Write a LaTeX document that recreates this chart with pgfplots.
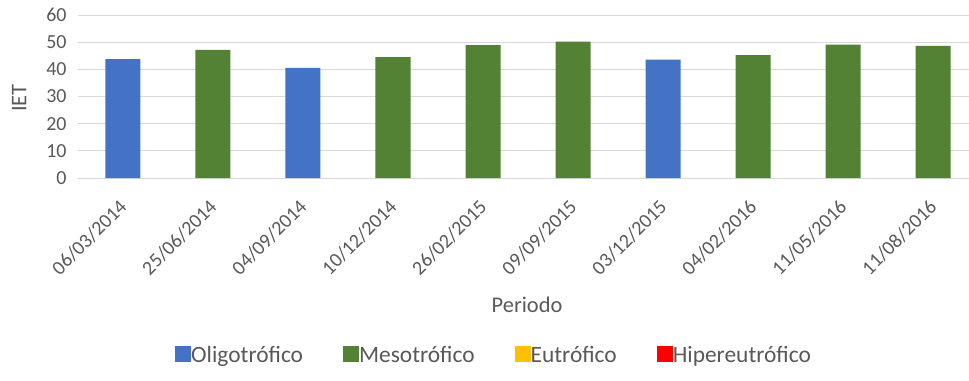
\documentclass[border=0pt]{standalone}
\usepackage{pgfplots}
\pgfplotsset{compat=1.18}
\usepackage{fontspec}
\setmainfont{Carlito}
\definecolor{oligo}{HTML}{4472C4}
\definecolor{meso}{HTML}{548235}
\definecolor{eutro}{HTML}{FFC000}
\definecolor{hiper}{HTML}{FF0000}
\definecolor{txt}{HTML}{595959}
\definecolor{gridc}{HTML}{D9D9D9}
\begin{document}
\begin{tikzpicture}
\useasboundingbox (-78bp,-203bp) rectangle (891bp,178bp);
\begin{axis}[
  at={(0,0)}, anchor=south west,
  width=891bp, height=163bp, scale only axis,
  xmin=-0.5, xmax=9.4, ymin=0, ymax=60,
  ytick={0,10,...,60},
  xtick={0,...,9},
  xticklabels={06/03/2014,25/06/2014,04/09/2014,10/12/2014,26/02/2015,09/09/2015,03/12/2015,04/02/2016,11/05/2016,11/08/2016},
  ymajorgrids, grid style={gridc, line width=1bp},
  axis line style={draw=none},
  major tick length=0pt,
  ticklabel style={font=\fontsize{20}{22}\selectfont, text=txt},
  /pgf/number format/assume math mode=true,
  yticklabel style={xshift=-8bp},
  xticklabel style={anchor=north east, inner sep=0pt, xshift=-5bp, yshift=-20bp, rotate=45},
  xlabel={Periodo}, ylabel={IET},
  label style={font=\fontsize{22.5}{24}\selectfont, text=txt},
  xlabel style={at={(axis description cs:0.504,-0.779)}, anchor=center},
  ylabel style={at={(axis description cs:-0.066,0.49)}, anchor=center},
  ybar, bar width=35bp,
  legend style={at={(axis description cs:0.467,-1.086)}, anchor=center, draw=none,
    font=\fontsize{23.5}{25}\selectfont, text=txt, legend columns=4,
    /tikz/every even column/.append style={column sep=38bp},
    /tikz/every odd column/.append style={column sep=-2bp}},
  legend image code/.code={\fill[#1] (0bp,-7bp) rectangle (16bp,9bp);},
]
\addplot[fill=oligo, draw=none, bar shift=0pt] coordinates {(0,43.75) (2,40.5) (6,43.6)};
\addlegendentry{Oligotrófico}
\addplot[fill=meso, draw=none, bar shift=0pt] coordinates {(1,47.2) (3,44.5) (4,48.9) (5,50.2) (7,45.2) (8,49.1) (9,48.6)};
\addlegendentry{Mesotrófico}
\addlegendimage{fill=eutro, draw=none}
\addlegendentry{Eutrófico}
\addlegendimage{fill=hiper, draw=none}
\addlegendentry{Hipereutrófico}
\end{axis}
\end{tikzpicture}
\end{document}
